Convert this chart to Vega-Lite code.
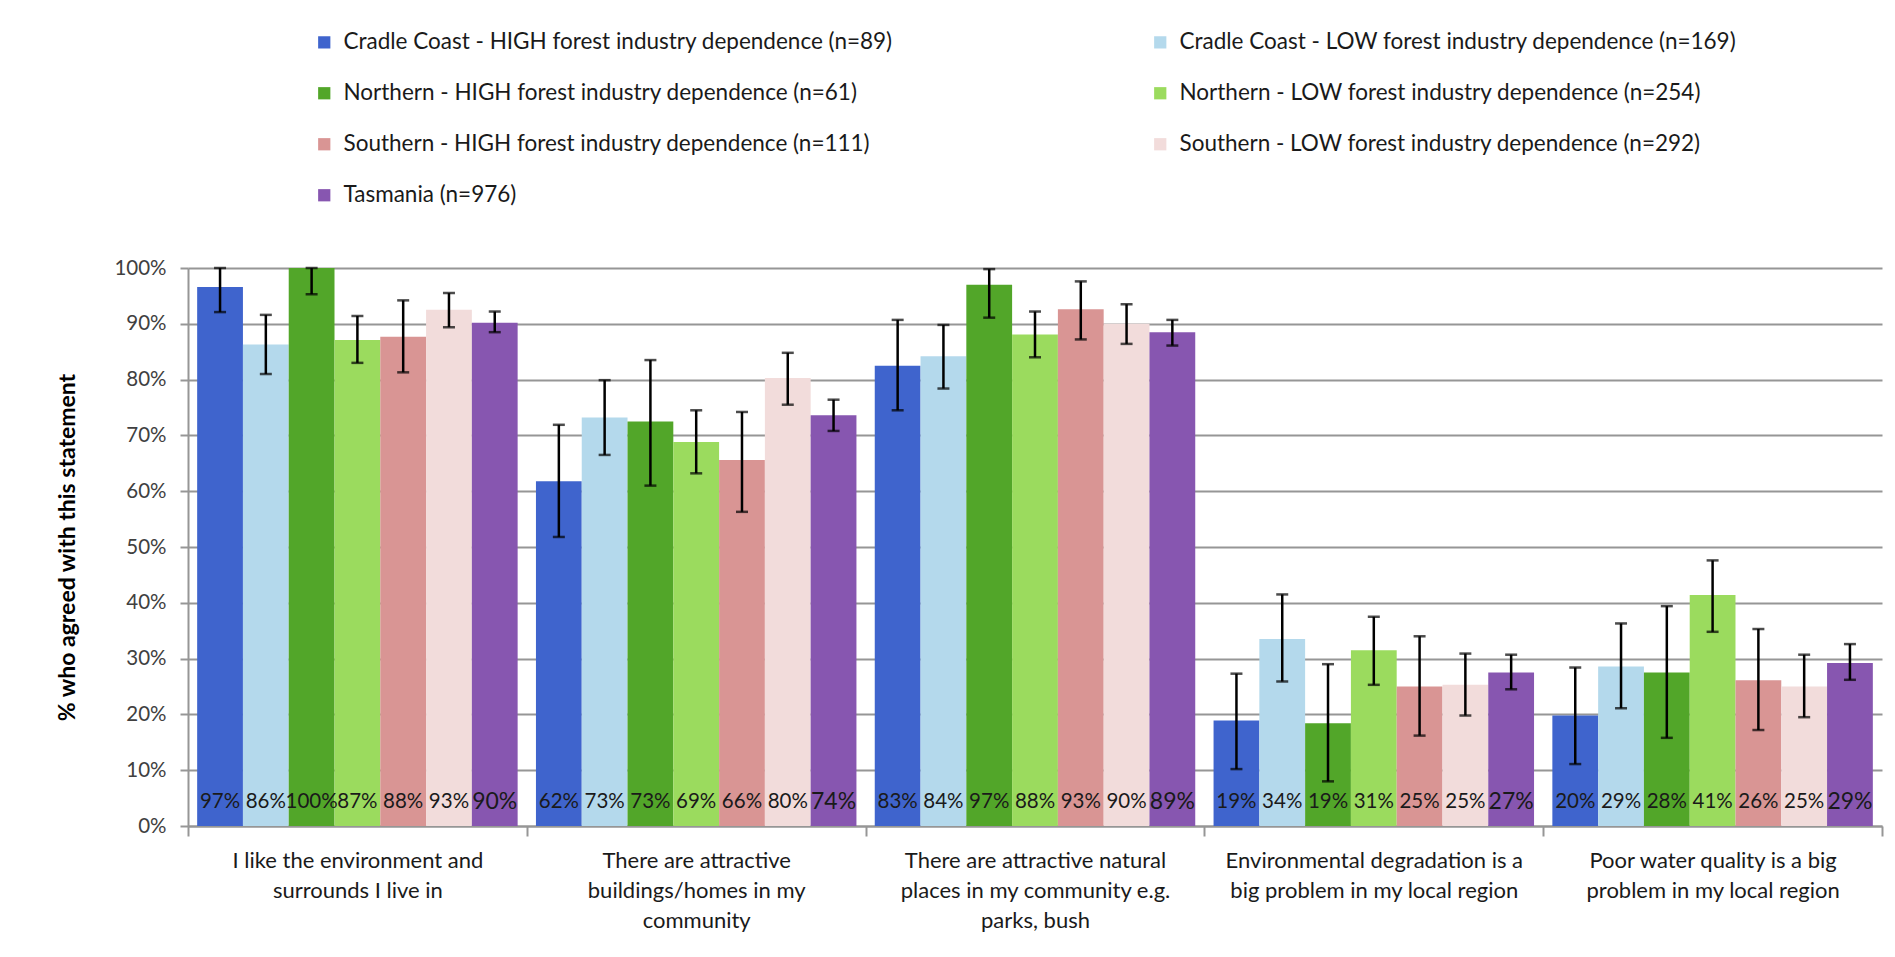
{
  "$schema": "https://vega.github.io/schema/vega-lite/v6.json",
  "width": 1694,
  "height": 558,
  "autosize": {"type": "none"},
  "padding": {"left": 188, "top": 268, "right": 13, "bottom": 131},
  "background": "white",
  "config": {
    "view": {"stroke": null},
    "font": "Lato"
  },
  "data": {
    "values": [
      {"cat": "I like the environment and|surrounds I live in", "series": "Cradle Coast - HIGH forest industry dependence (n=89)", "v": 96.6, "lo": 92.1, "hi": 100, "lab": "97%"},
      {"cat": "I like the environment and|surrounds I live in", "series": "Cradle Coast - LOW forest industry dependence (n=169)", "v": 86.3, "lo": 81.0, "hi": 91.6, "lab": "86%"},
      {"cat": "I like the environment and|surrounds I live in", "series": "Northern - HIGH forest industry dependence (n=61)", "v": 100, "lo": 95.3, "hi": 100, "lab": "100%"},
      {"cat": "I like the environment and|surrounds I live in", "series": "Northern - LOW forest industry dependence (n=254)", "v": 87.1, "lo": 83.0, "hi": 91.4, "lab": "87%"},
      {"cat": "I like the environment and|surrounds I live in", "series": "Southern - HIGH forest industry dependence (n=111)", "v": 87.7, "lo": 81.3, "hi": 94.2, "lab": "88%"},
      {"cat": "I like the environment and|surrounds I live in", "series": "Southern - LOW forest industry dependence (n=292)", "v": 92.5, "lo": 89.4, "hi": 95.5, "lab": "93%"},
      {"cat": "I like the environment and|surrounds I live in", "series": "Tasmania (n=976)", "v": 90.2, "lo": 88.5, "hi": 92.2, "lab": "90%"},

      {"cat": "There are attractive|buildings/homes in my|community", "series": "Cradle Coast - HIGH forest industry dependence (n=89)", "v": 61.8, "lo": 51.8, "hi": 71.9, "lab": "62%"},
      {"cat": "There are attractive|buildings/homes in my|community", "series": "Cradle Coast - LOW forest industry dependence (n=169)", "v": 73.2, "lo": 66.5, "hi": 79.9, "lab": "73%"},
      {"cat": "There are attractive|buildings/homes in my|community", "series": "Northern - HIGH forest industry dependence (n=61)", "v": 72.5, "lo": 61.0, "hi": 83.5, "lab": "73%"},
      {"cat": "There are attractive|buildings/homes in my|community", "series": "Northern - LOW forest industry dependence (n=254)", "v": 68.8, "lo": 63.2, "hi": 74.5, "lab": "69%"},
      {"cat": "There are attractive|buildings/homes in my|community", "series": "Southern - HIGH forest industry dependence (n=111)", "v": 65.6, "lo": 56.3, "hi": 74.2, "lab": "66%"},
      {"cat": "There are attractive|buildings/homes in my|community", "series": "Southern - LOW forest industry dependence (n=292)", "v": 80.3, "lo": 75.5, "hi": 84.8, "lab": "80%"},
      {"cat": "There are attractive|buildings/homes in my|community", "series": "Tasmania (n=976)", "v": 73.6, "lo": 70.8, "hi": 76.4, "lab": "74%"},

      {"cat": "There are attractive natural|places in my community e.g.|parks, bush", "series": "Cradle Coast - HIGH forest industry dependence (n=89)", "v": 82.5, "lo": 74.5, "hi": 90.7, "lab": "83%"},
      {"cat": "There are attractive natural|places in my community e.g.|parks, bush", "series": "Cradle Coast - LOW forest industry dependence (n=169)", "v": 84.2, "lo": 78.4, "hi": 89.8, "lab": "84%"},
      {"cat": "There are attractive natural|places in my community e.g.|parks, bush", "series": "Northern - HIGH forest industry dependence (n=61)", "v": 97.0, "lo": 91.1, "hi": 99.8, "lab": "97%"},
      {"cat": "There are attractive natural|places in my community e.g.|parks, bush", "series": "Northern - LOW forest industry dependence (n=254)", "v": 88.1, "lo": 84.0, "hi": 92.2, "lab": "88%"},
      {"cat": "There are attractive natural|places in my community e.g.|parks, bush", "series": "Southern - HIGH forest industry dependence (n=111)", "v": 92.6, "lo": 87.2, "hi": 97.6, "lab": "93%"},
      {"cat": "There are attractive natural|places in my community e.g.|parks, bush", "series": "Southern - LOW forest industry dependence (n=292)", "v": 90.0, "lo": 86.4, "hi": 93.5, "lab": "90%"},
      {"cat": "There are attractive natural|places in my community e.g.|parks, bush", "series": "Tasmania (n=976)", "v": 88.5, "lo": 86.1, "hi": 90.7, "lab": "89%"},

      {"cat": "Environmental degradation is a|big problem in my local region", "series": "Cradle Coast - HIGH forest industry dependence (n=89)", "v": 18.9, "lo": 10.2, "hi": 27.3, "lab": "19%"},
      {"cat": "Environmental degradation is a|big problem in my local region", "series": "Cradle Coast - LOW forest industry dependence (n=169)", "v": 33.5, "lo": 25.9, "hi": 41.5, "lab": "34%"},
      {"cat": "Environmental degradation is a|big problem in my local region", "series": "Northern - HIGH forest industry dependence (n=61)", "v": 18.4, "lo": 8.0, "hi": 29.0, "lab": "19%"},
      {"cat": "Environmental degradation is a|big problem in my local region", "series": "Northern - LOW forest industry dependence (n=254)", "v": 31.5, "lo": 25.3, "hi": 37.5, "lab": "31%"},
      {"cat": "Environmental degradation is a|big problem in my local region", "series": "Southern - HIGH forest industry dependence (n=111)", "v": 25.0, "lo": 16.2, "hi": 34.0, "lab": "25%"},
      {"cat": "Environmental degradation is a|big problem in my local region", "series": "Southern - LOW forest industry dependence (n=292)", "v": 25.3, "lo": 19.8, "hi": 30.9, "lab": "25%"},
      {"cat": "Environmental degradation is a|big problem in my local region", "series": "Tasmania (n=976)", "v": 27.5, "lo": 24.5, "hi": 30.7, "lab": "27%"},

      {"cat": "Poor water quality is a big|problem in my local region", "series": "Cradle Coast - HIGH forest industry dependence (n=89)", "v": 19.8, "lo": 11.1, "hi": 28.4, "lab": "20%"},
      {"cat": "Poor water quality is a big|problem in my local region", "series": "Cradle Coast - LOW forest industry dependence (n=169)", "v": 28.6, "lo": 21.1, "hi": 36.3, "lab": "29%"},
      {"cat": "Poor water quality is a big|problem in my local region", "series": "Northern - HIGH forest industry dependence (n=61)", "v": 27.5, "lo": 15.8, "hi": 39.4, "lab": "28%"},
      {"cat": "Poor water quality is a big|problem in my local region", "series": "Northern - LOW forest industry dependence (n=254)", "v": 41.4, "lo": 34.8, "hi": 47.6, "lab": "41%"},
      {"cat": "Poor water quality is a big|problem in my local region", "series": "Southern - HIGH forest industry dependence (n=111)", "v": 26.1, "lo": 17.2, "hi": 35.3, "lab": "26%"},
      {"cat": "Poor water quality is a big|problem in my local region", "series": "Southern - LOW forest industry dependence (n=292)", "v": 25.0, "lo": 19.5, "hi": 30.7, "lab": "25%"},
      {"cat": "Poor water quality is a big|problem in my local region", "series": "Tasmania (n=976)", "v": 29.2, "lo": 26.2, "hi": 32.6, "lab": "29%"}
    ]
  },
  "encoding": {
    "x": {
      "field": "cat",
      "type": "nominal",
      "sort": null,
      "scale": {"paddingInner": 0, "paddingOuter": 0},
      "axis": {
        "title": null,
        "labelExpr": "split(datum.label, '|')",
        "labelAngle": 0,
        "tickBand": "extent",
        "ticks": true,
        "tickSize": 10,
        "tickColor": "#969696",
        "tickWidth": 2,
        "domainColor": "#969696",
        "domainWidth": 2,
        "labelPadding": 14,
        "labelFontSize": 22,
        "labelLineHeight": 30,
        "labelColor": "#1a1a1a",
        "labelFont": "Lato",
        "labelLimit": 500
      }
    },
    "xOffset": {
      "field": "series",
      "type": "nominal",
      "sort": null,
      "scale": {"paddingInner": 0, "paddingOuter": 0.2}
    }
  },
  "layer": [
    {
      "mark": {"type": "bar"},
      "encoding": {
        "y": {
          "field": "v",
          "type": "quantitative",
          "scale": {"domain": [0, 100], "nice": false},
          "axis": {
            "title": "% who agreed with this statement",
            "titleFontSize": 23,
            "titleFontWeight": "bold",
            "titleFont": "Lato",
            "titleColor": "#000000",
            "titlePadding": 34,
            "values": [0, 10, 20, 30, 40, 50, 60, 70, 80, 90, 100],
            "labelExpr": "datum.value + '%'",
            "labelFontSize": 20.5,
            "labelFont": "Lato",
            "labelColor": "#404040",
            "labelPadding": 14,
            "grid": true,
            "gridColor": "#969696",
            "gridWidth": 2,
            "domainColor": "#969696",
            "domainWidth": 2,
            "tickColor": "#969696",
            "tickWidth": 2,
            "tickSize": 8
          }
        },
        "color": {
          "field": "series",
          "type": "nominal",
          "sort": null,
          "scale": {
            "domain": [
              "Cradle Coast - HIGH forest industry dependence (n=89)",
              "Cradle Coast - LOW forest industry dependence (n=169)",
              "Northern - HIGH forest industry dependence (n=61)",
              "Northern - LOW forest industry dependence (n=254)",
              "Southern - HIGH forest industry dependence (n=111)",
              "Southern - LOW forest industry dependence (n=292)",
              "Tasmania (n=976)"
            ],
            "range": ["#3f64cd", "#b4d9ec", "#52a629", "#9bdb5e", "#d99594", "#f2dcdb", "#8756b0"]
          },
          "legend": {
            "title": null,
            "orient": "none",
            "direction": "horizontal",
            "legendX": 125,
            "legendY": -237,
            "columns": 2,
            "columnPadding": 256,
            "rowPadding": 28,
            "symbolType": "square",
            "symbolSize": 150,
            "symbolStrokeWidth": 0,
            "labelFontSize": 22.5,
            "labelFont": "Lato",
            "labelColor": "#1a1a1a",
            "labelLimit": 800,
            "labelOffset": 8,
            "padding": 0
          }
        }
      }
    },
    {
      "mark": {"type": "rule", "color": "#000000", "strokeWidth": 2.5},
      "encoding": {
        "y": {"field": "lo", "type": "quantitative"},
        "y2": {"field": "hi"}
      }
    },
    {
      "mark": {"type": "tick", "color": "#000000", "thickness": 2.5, "size": 12},
      "encoding": {
        "y": {"field": "lo", "type": "quantitative"}
      }
    },
    {
      "mark": {"type": "tick", "color": "#000000", "thickness": 2.5, "size": 12},
      "encoding": {
        "y": {"field": "hi", "type": "quantitative"}
      }
    },
    {
      "mark": {"type": "text", "baseline": "middle", "align": "center", "dy": -24, "font": "Lato", "color": "#1a1a1a"},
      "encoding": {
        "y": {"datum": 0, "type": "quantitative"},
        "text": {"field": "lab"},
        "size": {
          "condition": {"test": "datum.series == 'Tasmania (n=976)'", "value": 23},
          "value": 20.5
        }
      }
    }
  ]
}
